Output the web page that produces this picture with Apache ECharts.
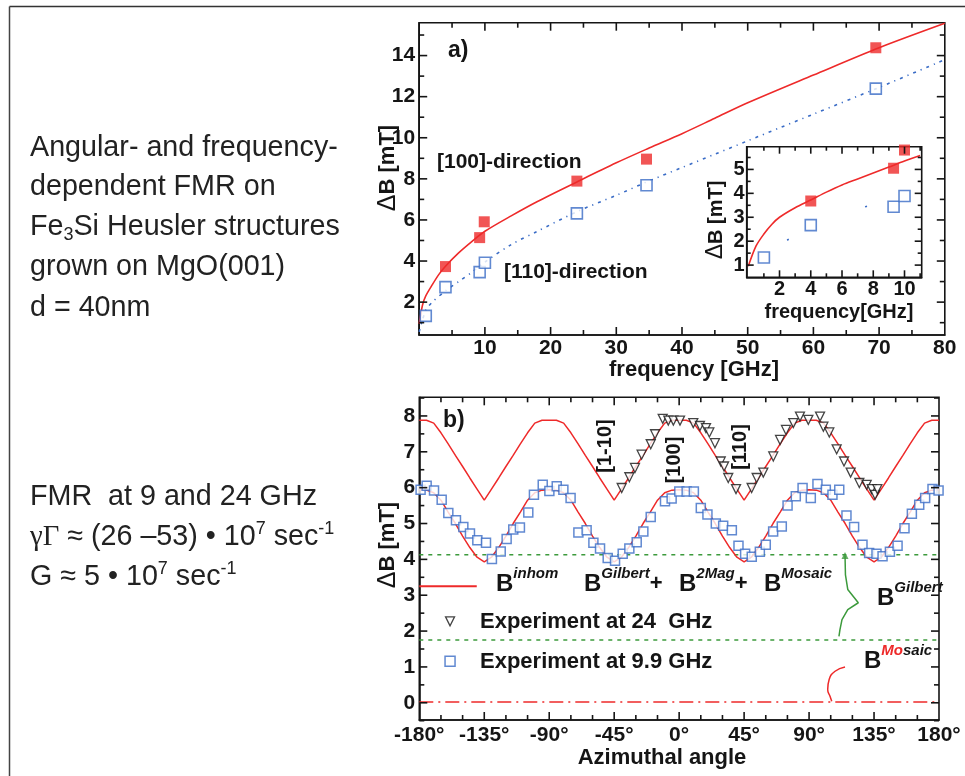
<!DOCTYPE html>
<html><head><meta charset="utf-8">
<script src="https://cdn.jsdelivr.net/npm/echarts@6/dist/echarts.min.js"></script>
<style>html,body{margin:0;padding:0;background:#fff}#c{width:965px;height:776px}</style>
</head><body><div id="c"></div>
<script>
// ---------- panel a) main ----------
const aRedFreq   = [4, 9.2, 9.9, 24, 34.6, 69.5];
const aRedWidth  = [3.73, 5.14, 5.91, 7.89, 8.96, 14.38];
const aBlueFreq  = [1, 4, 9.2, 10, 24, 34.6, 69.5];
const aBlueWidth = [1.33, 2.73, 3.46, 3.92, 6.32, 7.69, 12.39];
const aRedFitFreq  = [0, 0.5, 1, 2, 3, 4, 6, 8, 10, 14, 18, 24, 30, 35, 40, 45, 50, 60, 70, 80];
const aRedFitWidth = [0.95, 1.85, 2.3, 2.85, 3.35, 3.75, 4.4, 4.95, 5.45, 6.2, 6.9, 7.85, 8.78, 9.5, 10.2, 10.95, 11.7, 13.05, 14.38, 15.57];
const aBlueFitFreq  = [0, 1, 2, 4, 6, 8, 10, 14, 18, 24, 30, 35, 40, 45, 50, 55, 60, 70, 80];
const aBlueFitWidth = [0.55, 1.6, 2.0, 2.55, 3.0, 3.45, 3.95, 4.8, 5.45, 6.4, 7.2, 7.9, 8.55, 9.2, 9.85, 10.5, 11.15, 12.45, 13.8];
const aXLabels = [10, 20, 30, 40, 50, 60, 70, 80];
const aXMajor  = [10, 20, 30, 40, 50, 60, 70];
const aXMinor  = [5, 15, 25, 35, 45, 55, 65, 75];
const aYLabels = [2, 4, 6, 8, 10, 12, 14];
const aYMinor  = [1, 3, 5, 7, 9, 11, 13, 15];
// ---------- panel a) inset ----------
const inRedFreq   = [4, 9.3, 10];
const inRedWidth  = [3.68, 5.05, 5.81];
const inBlueFreq  = [1, 4, 9.3, 10];
const inBlueWidth = [1.32, 2.67, 3.44, 3.89];
const inRedFitFreq  = [0, 0.5, 1, 1.5, 2, 3, 4, 5, 6, 7, 8, 9, 10, 11];
const inRedFitWidth = [0.95, 1.8, 2.3, 2.7, 3.0, 3.4, 3.72, 4.05, 4.35, 4.6, 4.85, 5.1, 5.35, 5.58];
const inBlueFitFreq  = [0, 1, 2.5, 4, 7.5, 10, 11.1];
const inBlueFitWidth = [0.55, 1.6, 2.05, 2.55, 3.44, 3.95, 4.15];
const inXLabels = [2, 4, 6, 8, 10];
const inXMinor  = [1, 3, 5, 7, 9, 11];
const inYLabels = [1, 2, 3, 4, 5];
const inYMinor  = [1.5, 2.5, 3.5, 4.5, 5.5];
// ---------- panel b) ----------
const bFitAngle = [-180,-175,-170,-165,-160,-155,-150,-145,-140,-135,-130,-125,-120,-115,-110,-105,-100,-95,-90,-85,-80,-75,-70,-65,-60,-55,-50,-45,-40,-35,-30,-25,-20,-15,-10,-5,0,5,10,15,20,25,30,35,40,45,50,55,60,65,70,75,80,85,90,95,100,105,110,115,120,125,130,135,140,145,150,155,160,165,170,175,180];
const bFit24 = [7.88,7.88,7.80,7.53,7.22,6.90,6.59,6.27,5.96,5.65,5.96,6.27,6.59,6.90,7.22,7.53,7.80,7.88,
                7.88,7.88,7.80,7.53,7.22,6.90,6.59,6.27,5.96,5.65,5.96,6.27,6.59,6.90,7.22,7.53,7.80,7.88,
                7.88,7.88,7.80,7.53,7.22,6.90,6.59,6.27,5.96,5.65,5.96,6.27,6.59,6.90,7.22,7.53,7.80,7.88,
                7.88,7.88,7.80,7.53,7.22,6.90,6.59,6.27,5.96,5.65,5.96,6.27,6.59,6.90,7.22,7.53,7.80,7.88,7.88];
const bFit99 = [5.94,5.93,5.86,5.65,5.32,5.00,4.65,4.33,4.06,3.93,4.06,4.33,4.65,5.00,5.32,5.65,5.86,5.93,
                5.94,5.93,5.86,5.65,5.32,5.00,4.65,4.33,4.06,3.93,4.06,4.33,4.65,5.00,5.32,5.65,5.86,5.93,
                5.94,5.93,5.86,5.65,5.32,5.00,4.65,4.33,4.06,3.93,4.06,4.33,4.65,5.00,5.32,5.65,5.86,5.93,
                5.94,5.93,5.86,5.65,5.32,5.00,4.65,4.33,4.06,3.93,4.06,4.33,4.65,5.00,5.32,5.65,5.86,5.93,5.94];
const bExp24Angle = [-39.8,-34.5,-30.6,-26.0,-19.7,-16.7,-11.4,-7.5,-4.0,0.6,9.8,14.4,18.6,20.9,24.8,28.8,31.1,34.0,39.4,50.2,53.7,58.3,65.2,69.9,74.0,79.1,83.7,89.5,97.6,99.9,104.0,109.1,114.2,118.8,124.8,129.9,133.4,135.7,137.3];
const bExp24Width = [5.99,6.29,6.55,6.92,7.21,7.49,7.92,7.87,7.87,7.87,7.80,7.72,7.66,7.54,7.24,6.73,6.59,6.27,5.96,5.99,6.27,6.42,6.87,7.33,7.61,7.80,7.98,7.89,7.98,7.70,7.54,7.07,6.73,6.42,6.13,6.08,5.96,5.80,5.96];
const bExp99Angle = [-179.1,-174.9,-169.8,-164.5,-159.9,-154.6,-149.5,-144.9,-139.8,-133.8,-129.7,-123.6,-119.5,-114.9,-110.3,-104.5,-100.6,-94.5,-89.9,-84.8,-80.2,-75.2,-69.8,-64.1,-59.4,-54.8,-49.5,-44.4,-39.1,-34.5,-29.4,-24.8,-19.7,-9.8,-5.2,0.1,5.2,10.2,15.0,19.6,25.4,30.5,36.5,41.1,45.7,50.3,55.9,60.0,65.1,71.1,75.1,80.8,85.5,91.2,95.8,101.6,106.2,110.9,115.9,121.2,127.0,131.6,136.7,140.9,146.0,151.3,156.1,161.2,166.3,170.4,175.5,179.7];
const bExp99Width = [5.94,6.05,5.92,5.66,5.29,5.09,4.90,4.72,4.53,4.46,4.01,4.22,4.57,4.83,4.89,5.31,5.80,6.08,5.91,6.04,5.94,5.71,4.75,4.81,4.46,4.30,4.04,3.96,4.16,4.30,4.48,4.78,5.18,5.62,5.70,5.89,5.89,5.89,5.43,5.25,5.00,4.94,4.81,4.38,4.16,4.07,4.21,4.41,4.78,4.92,5.50,5.76,5.99,5.71,6.10,5.94,5.80,5.94,5.22,4.90,4.41,4.18,4.16,4.09,4.21,4.38,4.87,5.27,5.52,5.71,5.96,5.92];
const bLevelGilbertTop = 4.13;
const bLevelGilbertBottom = 1.75;
const bLevelZero = 0.02;
const bXLabels = [-180, -135, -90, -45, 0, 45, 90, 135, 180];
const bXMajor  = [-135, -90, -45, 0, 45, 90, 135];
const bXMinor  = [-165,-150,-120,-105,-75,-60,-30,-15,15,30,60,75,105,120,150,165];
const bYLabels = [0, 1, 2, 3, 4, 5, 6, 7, 8];
const bYMinor  = [-0.5, 0.5, 1.5, 2.5, 3.5, 4.5, 5.5, 6.5, 7.5, 8.5];
// annotation shapes (data units of panel b)
const braceAngle = [114.9, 115.2, 116.8, 124.1, 116.8, 112.8, 111.4, 110.7];
const braceWidth = [4.11, 3.57, 3.16, 2.79, 2.60, 2.32, 2.04, 1.85];
const arcAngle = [114.9, 108.0, 103.9, 102.9, 104.5, 105.7];
const arcWidth = [1.00, 0.88, 0.65, 0.37, 0.18, 0.04];
const legLineAngle = [-180, -140.2];
const legLineWidth = [3.25, 3.25];
const legMarkAngle = -158.7;
const legTriWidth = 2.27;
const legSqWidth = 1.16;

const FONT = '"Liberation Sans", Arial, Helvetica, sans-serif';
const RED = '#ee2a2a', BLUE = '#3a6cc6', GREEN = '#3c9a3c', INK = '#151515';
const zip = (a, b) => a.map((v, i) => [v, b[i]]);

// ranges of the three plot frames
const aXR = [0, 80], aYR = [0.4, 15.6];
const inXR = [-0.1, 11.1], inYR = [0.49, 5.95];
const bXR = [-180, 180], bYR = [-0.48, 8.52];

const axisOf = (gridIndex, r, pos, labels, o) => ({
  gridIndex, type: 'value', min: r[0], max: r[1], position: pos, z: o.z || 0,
  axisLine: { show: true, onZero: false, lineStyle: { color: INK, width: 1.6 } },
  splitLine: { show: false },
  axisTick: { show: false },
  axisPointer: { show: false },
  axisLabel: { show: true, customValues: labels, margin: o.margin, formatter: o.fmt,
    fontFamily: FONT, fontWeight: 'bold', fontSize: o.fs, color: INK }
});
const xAxes = [
  axisOf(0, aXR, 'bottom', aXLabels, { margin: 3, fs: 21 }),
  axisOf(1, inXR, 'bottom', inXLabels, { margin: 2, fs: 20, z: 6 }),
  axisOf(2, bXR, 'bottom', bXLabels, { margin: 5, fs: 21, fmt: v => v + '°' })
];
const yAxes = [
  axisOf(0, aYR, 'left', aYLabels, { margin: 4, fs: 21 }),
  axisOf(1, inYR, 'left', inYLabels, { margin: 2, fs: 20, z: 6 }),
  axisOf(2, bYR, 'left', bYLabels, { margin: 4, fs: 21 })
];

// inward ticks on all four sides, placed through the axes' own scales
function tickSeries(idx, xr, yr, xMajor, xMinor, yMajor, yMinor, L, l, z) {
  const data = [];
  xMajor.forEach(v => data.push([v, L, 0]));
  xMinor.forEach(v => data.push([v, l, 0]));
  yMajor.forEach(v => data.push([v, L, 1]));
  yMinor.forEach(v => data.push([v, l, 1]));
  return {
    type: 'custom', xAxisIndex: idx, yAxisIndex: idx, silent: true, z, clip: false, data,
    renderItem: (p, api) => {
      const v = api.value(0), len = api.value(1), d = api.value(2);
      const st = { stroke: INK, lineWidth: 1.6 };
      if (d === 0) {
        const a = api.coord([v, yr[0]]), b = api.coord([v, yr[1]]);
        return { type: 'group', children: [
          { type: 'line', shape: { x1: a[0], y1: a[1], x2: a[0], y2: a[1] - len }, style: st },
          { type: 'line', shape: { x1: b[0], y1: b[1], x2: b[0], y2: b[1] + len }, style: st }
        ] };
      }
      const a = api.coord([xr[0], v]), b = api.coord([xr[1], v]);
      return { type: 'group', children: [
        { type: 'line', shape: { x1: a[0], y1: a[1], x2: a[0] + len, y2: a[1] }, style: st },
        { type: 'line', shape: { x1: b[0], y1: b[1], x2: b[0] - len, y2: b[1] }, style: st }
      ] };
    }
  };
}

const lineS = (xi, x, y, style, extra) => Object.assign({
  type: 'line', xAxisIndex: xi, yAxisIndex: xi, data: zip(x, y), symbol: 'none',
  lineStyle: style, silent: true, z: 2, clip: true
}, extra || {});
const scatS = (xi, x, y, symbol, size, item, extra) => Object.assign({
  type: 'scatter', xAxisIndex: xi, yAxisIndex: xi, data: zip(x, y), symbol, symbolSize: size,
  itemStyle: item, silent: true, z: 3
}, extra || {});

const series = [
  tickSeries(0, aXR, aYR, aXMajor, aXMinor, aYLabels, aYMinor, 8, 5, 4),
  tickSeries(1, inXR, inYR, inXLabels, inXMinor, inYLabels, inYMinor, 7, 4, 9),
  tickSeries(2, bXR, bYR, bXMajor, bXMinor, bYLabels, bYMinor, 8, 5, 4),
  // a) main
  lineS(0, aRedFitFreq, aRedFitWidth, { color: RED, width: 1.6 }, { smooth: 0.3 }),
  lineS(0, aBlueFitFreq, aBlueFitWidth, { color: BLUE, width: 1.6, type: [3, 5, 1.2, 5] }, { smooth: 0.3 }),
  scatS(0, aRedFreq, aRedWidth, 'rect', 11, { color: RED }),
  scatS(0, aBlueFreq, aBlueWidth, 'rect', 11, { color: '#fff', borderColor: BLUE, borderWidth: 1.6 }),
  // a) inset
  lineS(1, inRedFitFreq, inRedFitWidth, { color: RED, width: 1.6 }, { smooth: 0.3, z: 7 }),
  lineS(1, inBlueFitFreq, inBlueFitWidth, { color: BLUE, width: 1.6, type: [2, 83], dashOffset: 30 }, { z: 7 }),
  scatS(1, inRedFreq, inRedWidth, 'rect', 11, { color: RED }, { z: 8 }),
  scatS(1, inBlueFreq, inBlueWidth, 'rect', 11, { color: '#fff', borderColor: BLUE, borderWidth: 1.6 }, { z: 8 }),
  // b)
  lineS(2, [-180, 180], [bLevelGilbertTop, bLevelGilbertTop], { color: GREEN, width: 1.5, type: [4, 5] }),
  lineS(2, [-180, 180], [bLevelGilbertBottom, bLevelGilbertBottom], { color: GREEN, width: 1.5, type: [4, 5] }),
  lineS(2, [-180, 180], [bLevelZero, bLevelZero], { color: RED, width: 1.5, type: [14, 5, 2, 5] }),
  lineS(2, bFitAngle, bFit24, { color: RED, width: 1.5 }),
  lineS(2, bFitAngle, bFit99, { color: RED, width: 1.5 }),
  scatS(2, bExp99Angle, bExp99Width, 'rect', 9, { color: '#fff', borderColor: BLUE, borderWidth: 1.5 }),
  scatS(2, bExp24Angle, bExp24Width, 'triangle', 9, { color: '#fff', borderColor: INK, borderWidth: 1.3 }, { symbolRotate: 180 }),
  lineS(2, braceAngle, braceWidth, { color: GREEN, width: 1.5 }),
  scatS(2, [braceAngle[0]], [braceWidth[0]], 'triangle', 7, { color: GREEN }),
  lineS(2, arcAngle, arcWidth, { color: RED, width: 1.5 }, { smooth: 0.5 }),
  lineS(2, legLineAngle, legLineWidth, { color: RED, width: 2 }, { clip: false }),
  scatS(2, [legMarkAngle], [legTriWidth], 'triangle', 9, { color: '#fff', borderColor: INK, borderWidth: 1.3 }, { symbolRotate: 180 }),
  scatS(2, [legMarkAngle], [legSqWidth], 'rect', 10, { color: '#fff', borderColor: BLUE, borderWidth: 1.5 })
];

// ---------- texts ----------
const T = (x, y, text, o) => {
  o = o || {};
  const st = Object.assign({
    text, fill: INK, fontFamily: FONT, fontSize: 21, fontWeight: 'bold',
    align: o.align || 'left', verticalAlign: 'middle',
    textAlign: o.align || 'left', textVerticalAlign: 'middle'
  }, o.style || {});
  return { type: 'text', x, y, rotation: o.rot || 0, z: 100, silent: true, style: st };
};
const sup = { fontSize: 15, fontWeight: 'bold', fontStyle: 'italic', fontFamily: FONT, fill: INK, verticalAlign: 'top', lineHeight: 15 };
const bigB = { fontSize: 24, fontWeight: 'bold', fontFamily: FONT, fill: INK, lineHeight: 36 };
const LFS = 28.7;
const leftStyle = () => ({ fontSize: LFS, fontWeight: 'normal', lineHeight: 34, fill: '#222',
  rich: {
    sub: { fontSize: 18, fontFamily: FONT, fill: '#222', verticalAlign: 'bottom', lineHeight: 17 },
    sup: { fontSize: 18, fontFamily: FONT, fill: '#222', verticalAlign: 'top', lineHeight: 17 },
    g: { fontSize: LFS, fontFamily: '"Liberation Serif", "Times New Roman", serif', fill: '#222', lineHeight: 34 }
  } });
const deltaRich = (fs) => ({ rich: { d: { fontSize: fs + 3, fontWeight: 'normal', fontFamily: FONT, fill: INK } } });

const graphic = [
  { type: 'line', z: 100, silent: true, shape: { x1: 9.5, y1: 6.5, x2: 965, y2: 6.5 }, style: { stroke: '#333', lineWidth: 1.5 } },
  { type: 'line', z: 100, silent: true, shape: { x1: 9.5, y1: 6.5, x2: 9.5, y2: 776 }, style: { stroke: '#444', lineWidth: 1.5 } },
  // left description
  T(30, 148, 'Angular- and frequency-', { style: leftStyle() }),
  T(30, 187, 'dependent FMR on', { style: leftStyle() }),
  T(30, 227, 'Fe{sub|3}Si Heusler structures', { style: leftStyle() }),
  T(30, 267, 'grown on MgO(001)', { style: leftStyle() }),
  T(30, 308, 'd = 40nm', { style: leftStyle() }),
  T(30, 497, 'FMR  at 9 and 24 GHz', { style: leftStyle() }),
  T(30, 537, '{g|γΓ} ≈ (26 –53) • 10{sup|7} sec{sup|-1}', { style: leftStyle() }),
  T(30, 577, 'G ≈ 5 • 10{sup|7} sec{sup|-1}', { style: leftStyle() }),
  // panel a
  T(448, 51, 'a)', { style: { fontSize: 23 } }),
  T(437, 162, '[100]-direction'),
  T(504, 272, '[110]-direction'),
  T(388, 168, '{d|Δ}B [mT]', { align: 'center', rot: Math.PI / 2, style: Object.assign({ fontSize: 22 }, deltaRich(22)) }),
  T(694, 370, 'frequency [GHz]', { align: 'center', style: { fontSize: 22 } }),
  T(716, 220, '{d|Δ}B [mT]', { align: 'center', rot: Math.PI / 2, style: Object.assign({ fontSize: 20 }, deltaRich(20)) }),
  T(839, 312, 'frequency[GHz]', { align: 'center', style: { fontSize: 20 } }),
  // panel b
  T(443, 421, 'b)', { style: { fontSize: 23 } }),
  T(605, 446, '[1-10]', { align: 'center', rot: Math.PI / 2, style: { fontSize: 20 } }),
  T(674, 460, '[100]', { align: 'center', rot: Math.PI / 2, style: { fontSize: 20 } }),
  T(740, 447, '[110]', { align: 'center', rot: Math.PI / 2, style: { fontSize: 20 } }),
  T(388, 545, '{d|Δ}B [mT]', { align: 'center', rot: Math.PI / 2, style: Object.assign({ fontSize: 22 }, deltaRich(22)) }),
  T(662, 758, 'Azimuthal angle', { align: 'center', style: { fontSize: 22 } }),
  T(496, 584, '{b|B}{s|inhom}', { style: { rich: { b: bigB, s: sup } } }),
  T(584, 584, '{b|B}{s|Gilbert}{p|+}', { style: { rich: { b: bigB, s: sup, p: Object.assign({}, bigB, { fontSize: 22 }) } } }),
  T(679, 584, '{b|B}{s|2Mag}{p|+}', { style: { rich: { b: bigB, s: sup, p: Object.assign({}, bigB, { fontSize: 22 }) } } }),
  T(764, 584, '{b|B}{s|Mosaic}', { style: { rich: { b: bigB, s: sup } } }),
  T(480, 622, 'Experiment at 24  GHz', { style: { fontSize: 22 } }),
  T(480, 662, 'Experiment at 9.9 GHz', { style: { fontSize: 22 } }),
  T(877, 598, '{b|B}{s|Gilbert}', { style: { rich: { b: bigB, s: sup } } }),
  T(864, 661, '{b|B}{r|Mo}{s|saic}', { style: { rich: { b: bigB, s: sup, r: Object.assign({}, sup, { fill: RED }) } } })
];

const chart = echarts.init(document.getElementById('c'), null, { renderer: 'canvas', width: 965, height: 776 });
chart.setOption({
  animation: false,
  backgroundColor: '#fff',
  grid: [
    { left: 419.2, top: 22.7, width: 525.6, height: 312.3, show: true, borderColor: INK, borderWidth: 1.6, backgroundColor: 'rgba(0,0,0,0)', z: 0 },
    { left: 746.7, top: 146.7, width: 175, height: 130.6, show: true, borderColor: INK, borderWidth: 1.6, backgroundColor: '#fff', z: 5 },
    { left: 419.3, top: 397.3, width: 519.7, height: 322.7, show: true, borderColor: INK, borderWidth: 1.6, backgroundColor: 'rgba(0,0,0,0)', z: 0 }
  ],
  xAxis: xAxes,
  yAxis: yAxes,
  series,
  graphic
});
</script>
</body></html>
